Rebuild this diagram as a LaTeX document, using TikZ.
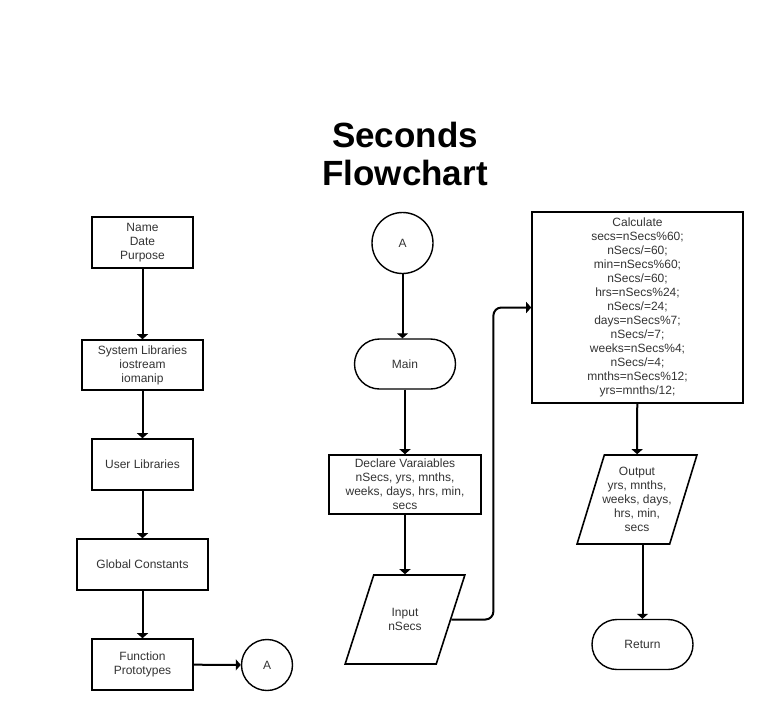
\documentclass[tikz,border=0pt]{standalone}
\usepackage{fontspec}
\setmainfont{Liberation Sans}
\usetikzlibrary{shapes.geometric,arrows.meta}

\begin{document}
\begin{tikzpicture}[x=1pt, y=-1pt,
  every node/.style={font=\fontsize{12}{14}\selectfont, text=black!80, align=center},
  box/.style={draw, line width=1.6pt, inner sep=2pt},
  io/.style={draw, line width=1.6pt, trapezium, trapezium left angle=71.4, trapezium right angle=108.6,
    trapezium stretches=true, minimum width=120pt, minimum height=89pt, inner xsep=-6pt},
  term/.style={draw, line width=1.4pt, rounded corners=25pt, minimum width=101pt, minimum height=50pt},
  conn/.style={draw, circle, line width=1.4pt},
  arr/.style={line width=2pt, -{Triangle[length=5pt,width=11pt]}}]
  \useasboundingbox (0,0) rectangle (766,710);
  \node[box, minimum width=101pt, minimum height=51pt] (0) at (142.5,242.5) {Name\\Date\\Purpose};
  \node[box, minimum width=121pt, minimum height=50pt] (1) at (142.5,365) {System Libraries\\iostream\\iomanip};
  \node[box, minimum width=101pt, minimum height=51pt] (2) at (142.5,464.5) {User Libraries};
  \node[box, minimum width=131pt, minimum height=51pt] (3) at (142.5,564.5) {Global Constants};
  \node[box, minimum width=101pt, minimum height=51pt] (4) at (142.5,664.5) {Function\\Prototypes};
  \node[conn, minimum size=51pt] (5) at (267,665) {A};
  \node[conn, minimum size=61pt] (6) at (402.5,243) {A};
  \node[term] (7) at (405,364) {Main};
  \node[box, minimum width=152pt, minimum height=59pt] (8) at (405,484.5) {Declare Varaiables\\nSecs, yrs, mnths,\\weeks, days, hrs, min,\\secs};
  \node[io] (9) at (405,619.5) {Input\\nSecs};
  \node[box, minimum width=211pt, minimum height=191pt] (10) at (637.5,307.5) {Calculate\\secs=nSecs\%60;\\nSecs/=60;\\min=nSecs\%60;\\nSecs/=60;\\hrs=nSecs\%24;\\nSecs/=24;\\days=nSecs\%7;\\nSecs/=7;\\weeks=nSecs\%4;\\nSecs/=4;\\mnths=nSecs\%12;\\yrs=mnths/12;};
  \node[io] (11) at (637,499.5) {Output\\yrs, mnths,\\weeks, days,\\hrs, min,\\secs};
  \node[term] (12) at (642.5,644.5) {Return};
  \draw[arr] (0)--(1);
  \draw[arr] (1)--(2);
  \draw[arr] (2)--(3);
  \draw[arr] (3)--(4);
  \draw[arr] (4)--(5);
  \draw[arr] (6)--(6 |- 7.north);
  \draw[arr] (7)--(8);
  \draw[arr] (8)--(9);
  \draw[arr, rounded corners=8pt] (9.east) -- ++(42,0) |- (10);
  \draw[arr] (10)--(11);
  \draw[arr] (11.south -| 12)--(12);
  \node[anchor=north, inner sep=0pt, text=black, font=\bfseries\fontsize{35}{38}\selectfont] (13) at (405,121.5) {Seconds\\Flowchart};
\end{tikzpicture}
\end{document}
